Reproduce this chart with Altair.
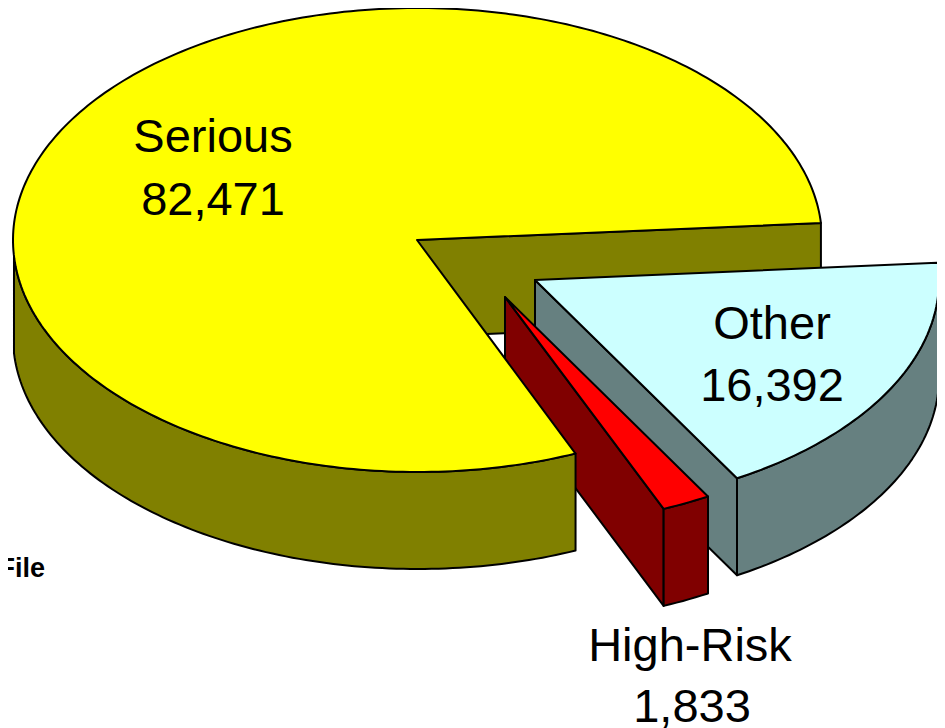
import math
import altair as alt
import pandas as pd

# Slice data
names = ["Serious", "Other", "High-Risk"]
counts = [82471, 16392, 1833]

# Canvas of the reference, in page pixels
X0, X1, Y0, Y1 = 8, 937, 8, 728
DEPTH = 97

YELLOW, OLIVE = "#FFFF00", "#808000"
AQUA, SLATE = "#CCFFFF", "#668080"
RED, MAROON = "#FF0000", "#800000"


def pt(c, t, drop=0):
    cx, cy, rx, ry = c
    a = math.radians(t)
    return (cx + rx * math.cos(a), cy + ry * math.sin(a) + drop)


def arc(c, t0, t1, drop=0):
    n = max(2, int(abs(t1 - t0)) + 1)
    return [pt(c, t0 + (t1 - t0) * i / (n - 1), drop) for i in range(n)]


def top(c, apex, t0, t1):
    return [apex] + arc(c, t0, t1)


def outer_wall(c, t0, t1):
    return arc(c, t0, t1) + arc(c, t1, t0, DEPTH)


def inner_wall(c, apex, t):
    e = pt(c, t)
    return [apex, e, (e[0], e[1] + DEPTH), (apex[0], apex[1] + DEPTH)]


s = (417.5, 240, 404.5, 232)
s_apex = (417, 240)
o = (535, 280, 404, 229)
o_apex = (535, 280)
r = (505, 299, 406, 228)
r_apex = (505, 297)

shapes = [
    (inner_wall(s, s_apex, -4.2), OLIVE),
    (inner_wall(o, o_apex, 60), SLATE),
    (outer_wall(o, 0, 60), SLATE),
    (inner_wall(r, r_apex, 67), MAROON),
    (outer_wall(r, 60, 67), MAROON),
    (top(r, r_apex, 60, 67), RED),
    (outer_wall(s, 67, 176), OLIVE),
    (top(s, s_apex, 67, 355.8), YELLOW),
    (top(o, o_apex, -4.3, 60), AQUA),
]

xs = alt.Scale(domain=[X0, X1], nice=False, zero=False)
ys = alt.Scale(domain=[Y1, Y0], nice=False, zero=False)

layers = []
for pts, col in shapes:
    df = pd.DataFrame({"x": [p[0] for p in pts], "y": [p[1] for p in pts], "i": range(len(pts))})
    layers.append(
        alt.Chart(df)
        .mark_line(interpolate="linear-closed", fill=col, stroke="black", strokeWidth=2,
                   strokeJoin="round", clip=False)
        .encode(
            x=alt.X("x:Q", scale=xs, axis=None),
            y=alt.Y("y:Q", scale=ys, axis=None),
            order="i:Q",
        )
    )

label_rows = [
    (names[0], 213, 152), (f"{counts[0]:,}", 213, 215),
    (names[1], 772, 339), (f"{counts[1]:,}", 772, 401),
    (names[2], 690, 661), (f"{counts[2]:,}", 692, 722),
]
labels = pd.DataFrame(label_rows, columns=["t", "x", "y"])
layers.append(
    alt.Chart(labels)
    .mark_text(font="Liberation Sans", fontSize=47, color="black", baseline="alphabetic", align="center")
    .encode(x=alt.X("x:Q", scale=xs, axis=None), y=alt.Y("y:Q", scale=ys, axis=None), text="t:N")
)
file_df = pd.DataFrame({"t": ["File"], "x": [45], "y": [577]})
layers.append(
    alt.Chart(file_df)
    .mark_text(font="Liberation Sans", fontSize=27, fontWeight="bold", color="black",
               baseline="alphabetic", align="right")
    .encode(x=alt.X("x:Q", scale=xs, axis=None), y=alt.Y("y:Q", scale=ys, axis=None), text="t:N")
)

chart = (
    alt.layer(*layers)
    .properties(width=X1 - X0, height=Y1 - Y0, padding=0, background="white",
                autosize=alt.AutoSizeParams(type="none"))
    .configure_view(stroke=None)
)
chart.save("out.html", embed_options={"renderer": "svg", "actions": False})
